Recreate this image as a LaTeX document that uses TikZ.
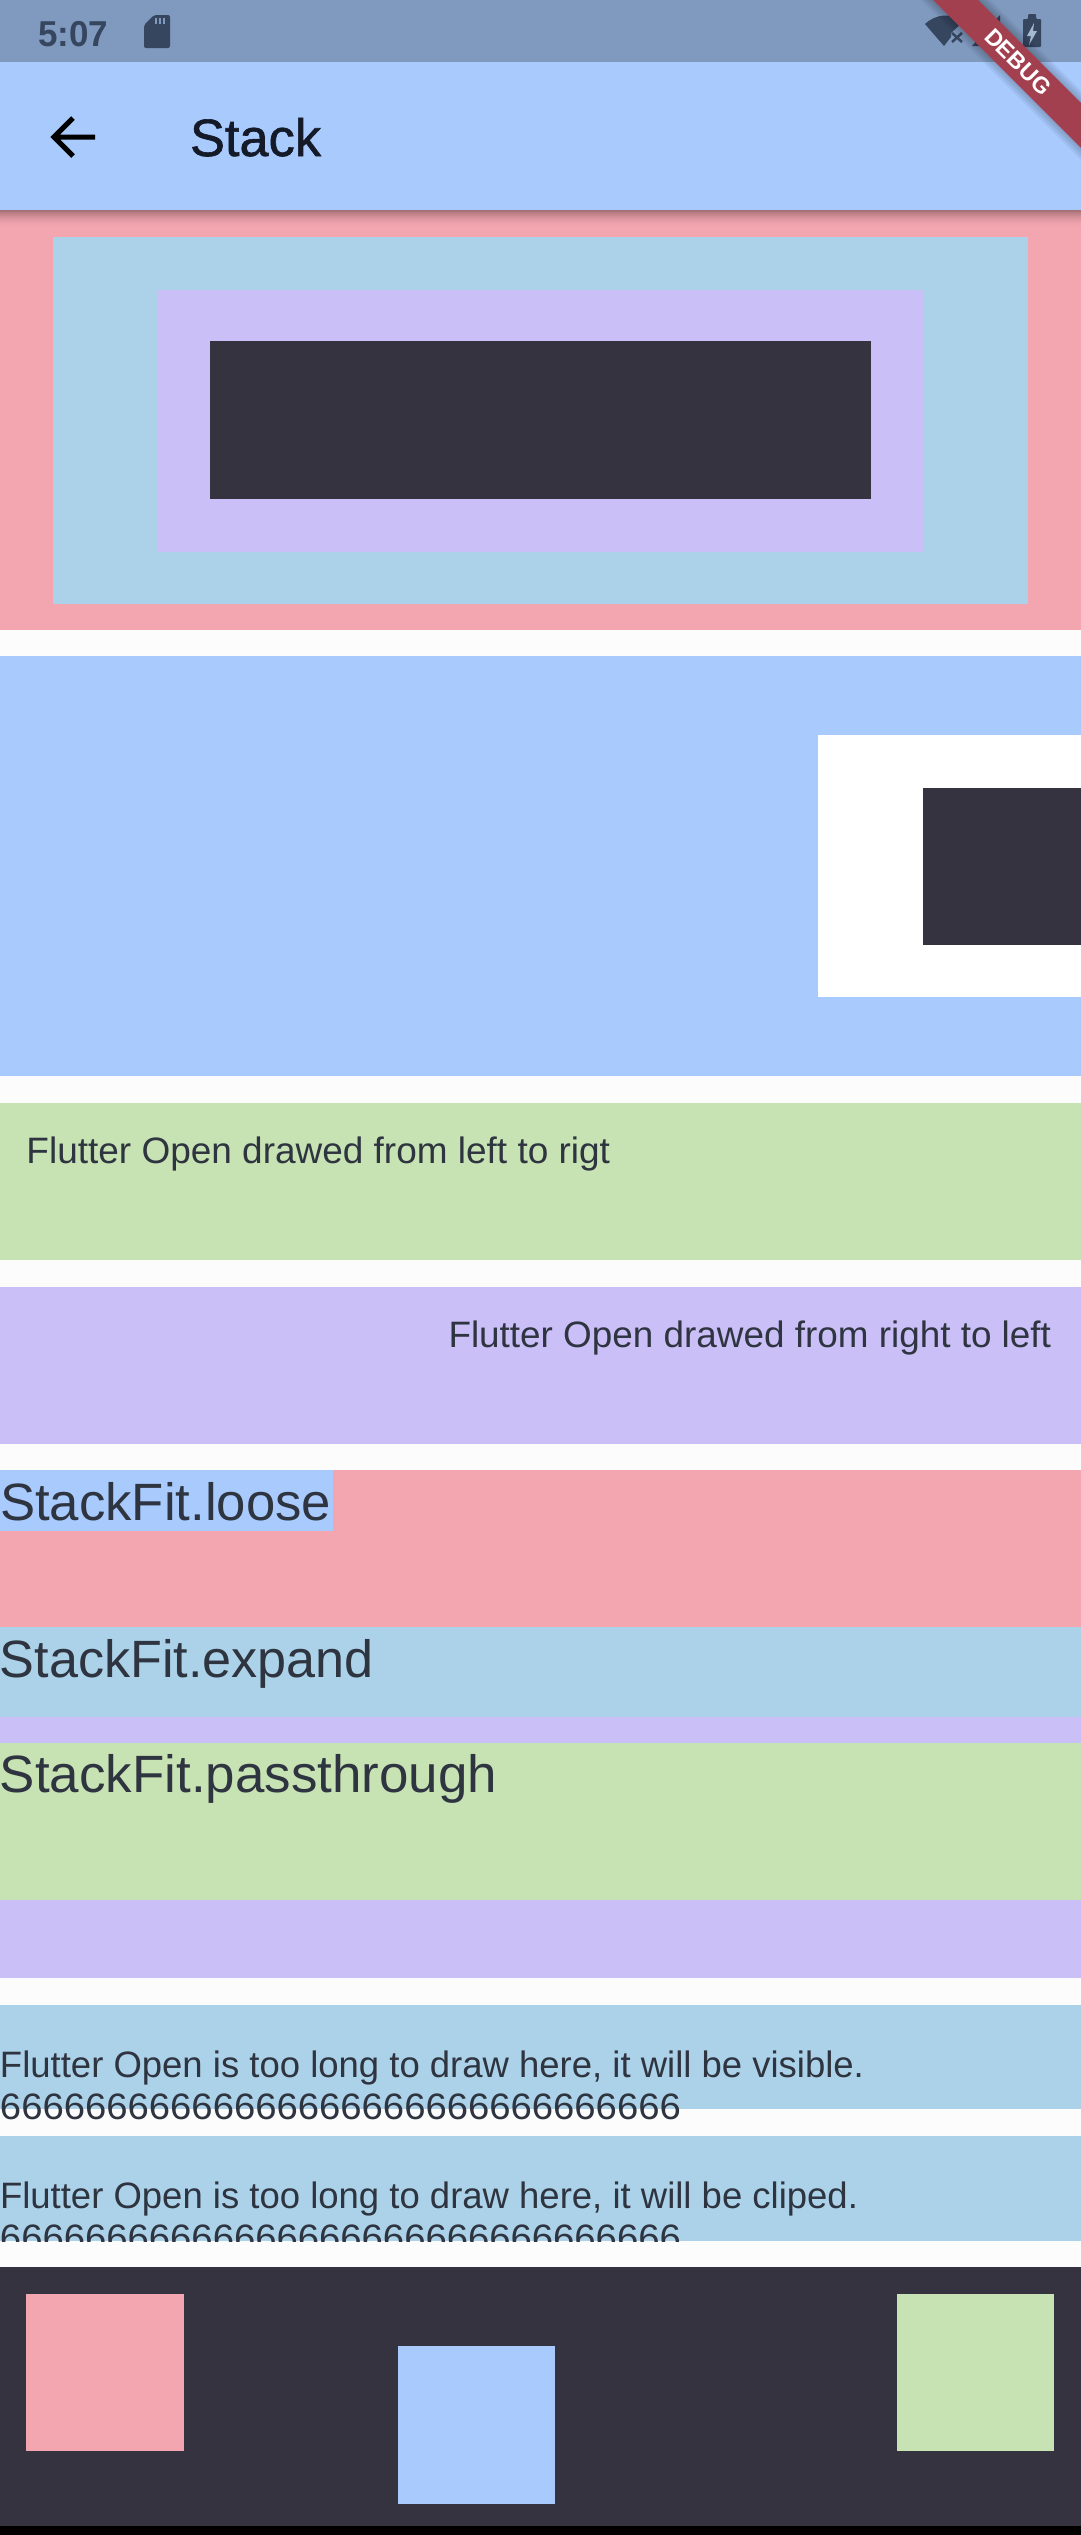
\documentclass[tikz,border=0pt]{standalone}
\usepackage{fontspec}
\usepackage{graphicx}
\setmainfont{Liberation Sans}
\newfontface\medf[FakeBold=1.2]{Liberation Sans}
\definecolor{bgc}{HTML}{FCFCFC}
\definecolor{statusc}{HTML}{7F99BF}
\definecolor{bluec}{HTML}{A8CAFD}
\definecolor{pinkc}{HTML}{F4A6B0}
\definecolor{skyc}{HTML}{ACD2E9}
\definecolor{lavc}{HTML}{CBBFF8}
\definecolor{greenc}{HTML}{C7E2B3}
\definecolor{darkc}{HTML}{353340}
\definecolor{textc}{HTML}{2E3440}
\definecolor{iconc}{HTML}{36465F}
\definecolor{bandc}{HTML}{A2404F}
\definecolor{titlec}{HTML}{151A28}
\tikzset{
  x=1pt,y=-1pt,
  txt/.style={anchor=base west,inner sep=0pt,outer sep=0pt,text=textc},
  small/.style={txt,font=\fontsize{36.75}{40}\selectfont},
  big/.style={txt,font=\fontsize{52.5}{56}\selectfont},
}
\newcommand{\fitw}[2]{\resizebox{#1pt}{\height}{#2}}
\def\Lx{-10}
\def\Rx{1090}
\begin{document}
\begin{tikzpicture}
\useasboundingbox (0,0) rectangle (1080,2535);
\fill[bgc] (\Lx,-10) rectangle (\Rx,2545);
% section 1
\fill[pinkc] (\Lx,210) rectangle (\Rx,630);
\fill[skyc] (52.5,237) rectangle (1028,604);
\fill[lavc] (158,290) rectangle (923.5,552);
\fill[darkc] (210,341) rectangle (871,499);
% section 2
\fill[bluec] (\Lx,656) rectangle (\Rx,1076);
\fill[white] (818,735) rectangle (\Rx,997);
\fill[darkc] (923,788) rectangle (\Rx,945);
% direction
\fill[greenc] (\Lx,1103) rectangle (\Rx,1260);
\fill[lavc] (\Lx,1287) rectangle (\Rx,1444);
\node[small] (ltr) at (26.5,1163) {\fitw{583.5}{Flutter Open drawed from left to rigt}};
\node[small] (rtl) at (448.5,1347) {\fitw{602.5}{Flutter Open drawed from right to left}};
% stack fit
\fill[pinkc] (\Lx,1470) rectangle (\Rx,1627);
\fill[bluec] (\Lx,1470) rectangle (333,1531);
\node[big] (loose) at (0,1520) {\fitw{331}{StackFit.loose}};
\fill[skyc] (\Lx,1627) rectangle (\Rx,1717);
\fill[lavc] (\Lx,1717) rectangle (\Rx,1978);
\fill[greenc] (\Lx,1743) rectangle (\Rx,1900);
\node[big] (expand) at (0,1677) {\fitw{374}{StackFit.expand}};
\node[big] (pass) at (0,1792) {\fitw{497}{StackFit.passthrough}};
% overflow
\fill[skyc] (\Lx,2005) rectangle (\Rx,2109);
\node[small] (vis1) at (0,2077) {\fitw{864}{Flutter Open is too long to draw here, it will be visible.}};
\node[small] (vis2) at (0,2119) {\fitw{681}{66666666666666666666666666666666}};
\fill[skyc] (\Lx,2136) rectangle (\Rx,2241);
\begin{scope}
\clip (\Lx,2136) rectangle (\Rx,2241);
\node[small] (clip1) at (0,2208) {\fitw{858}{Flutter Open is too long to draw here, it will be cliped.}};
\node[small] (clip2) at (0,2250) {\fitw{681}{66666666666666666666666666666666}};
\end{scope}
% bottom
\fill[darkc] (\Lx,2267) rectangle (\Rx,2526);
\fill[black] (\Lx,2526) rectangle (\Rx,2545);
\fill[pinkc] (26,2294) rectangle (184,2451);
\fill[bluec] (398,2346) rectangle (555,2504);
\fill[greenc] (897,2294) rectangle (1054,2451);
% app bar
\foreach \i in {0,...,17}{
  \fill[black,opacity={0.33*(1-\i/18)*(1-\i/18)}] (\Lx,210+\i) rectangle (\Rx,211+\i);
}
\fill[bluec] (\Lx,62) rectangle (\Rx,210);
\fill[statusc] (\Lx,-10) rectangle (\Rx,62);
\node[txt,text=titlec,font=\medf\fontsize{52.5}{56}\selectfont] (title) at (190,156) {\fitw{131}{Stack}};
\draw[black,line width=5pt,line join=miter] (54,137) -- (95,137) (73,118) -- (54,137) -- (73,156);
% status icons
\node[txt,text=iconc,font=\bfseries\fontsize{36}{40}\selectfont] (time) at (38,46) {\fitw{70}{5:07}};
\fill[iconc,rounded corners=2pt] (154,15) -- (170,15) -- (170,48) -- (144,48) -- (144,25) -- cycle;
\draw[statusc,line width=1.5pt] (156,18) -- (156,24) (160,18) -- (160,24) (164,18) -- (164,24);
\fill[iconc] (925,24) .. controls (937,13) and (952,13) .. (963,22) -- (951,33) -- (951,37) -- (944,46) -- cycle;
\draw[iconc,line width=2.5pt] (952,33) -- (962,42) (962,33) -- (952,42);
\fill[iconc] (1000,15) -- (1000,46) -- (972,46) -- cycle;
\fill[iconc,rounded corners=1pt] (1023,19) -- (1028,19) -- (1028,14) -- (1036,14) -- (1036,19) -- (1041,19) -- (1041,47) -- (1023,47) -- cycle;
\fill[statusc!70!white] (1034,23) -- (1027,36) -- (1031,36) -- (1029,45) -- (1037,31) -- (1033,31) -- cycle;
% debug banner
\foreach \w in {12,9,6,3}{
  \fill[black,opacity=0.05] (923-\w,-10) -- (968+\w,-10) -- (1280,302-\w) -- (1280,347+\w) -- cycle;
}
\fill[bandc] (923,-10) -- (968,-10) -- (1280,302) -- (1280,347) -- cycle;
\node[anchor=center,inner sep=0pt,text=white,rotate=-45,font=\bfseries\fontsize{23}{26}\selectfont] (debug) at (1018,62) {DEBUG};
\end{tikzpicture}
\end{document}
